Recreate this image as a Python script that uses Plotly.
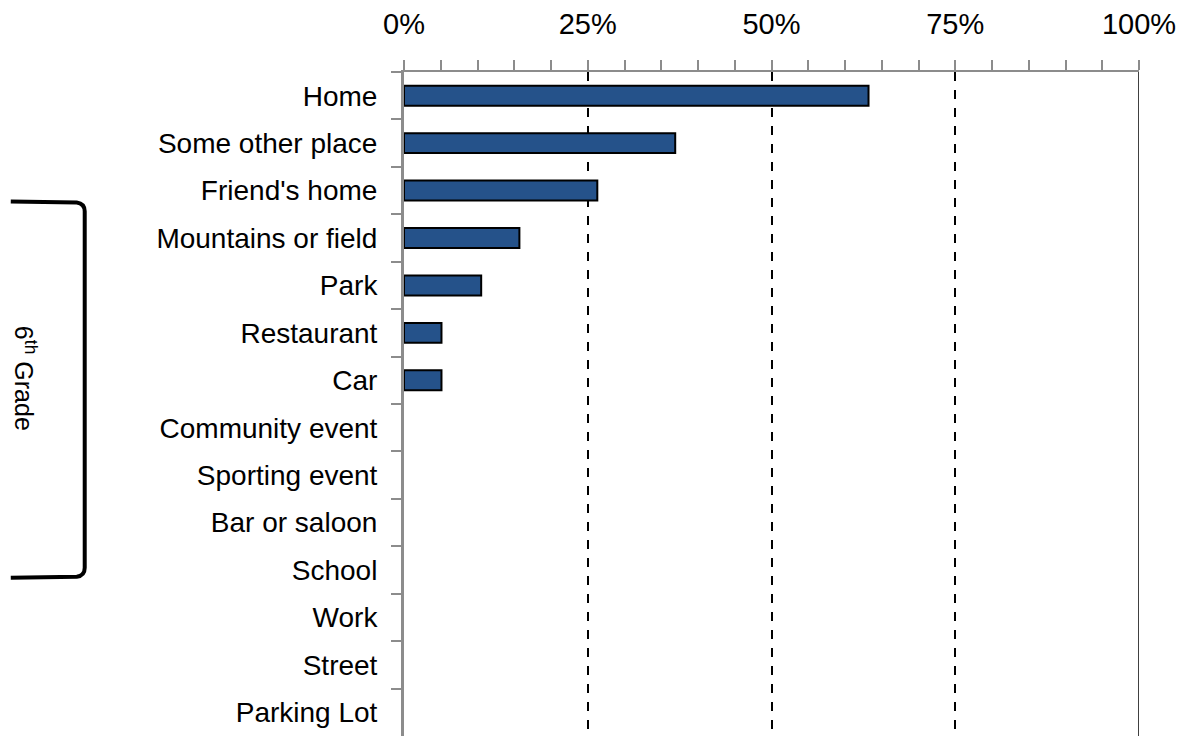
import plotly.graph_objects as go

# ---- data ----
categories = ["Home", "Some other place", "Friend's home", "Mountains or field", "Park",
              "Restaurant", "Car", "Community event", "Sporting event", "Bar or saloon",
              "School", "Work", "Street", "Parking Lot"]
values = [63.2, 36.9, 26.3, 15.7, 10.5, 5.1, 5.1, 0, 0, 0, 0, 0, 0, 0]
x_tick_vals = [0, 25, 50, 75, 100]
x_tick_text = ["0%", "25%", "50%", "75%", "100%"]
bracket_label = "6<sup>th</sup> Grade"

# page body has an 8px margin; figure is sized so the plot lands where the reference has it
OFF = 8
W, H = 1190 - OFF, 736 - OFF
L, R, T, B = 403.5 - OFF, 51, 69 - OFF, 0
pw, ph = W - L - R, H - T - B


def px(x):
    return (x - OFF - L) / pw


def py(y):
    return 1 - (y - OFF - T) / ph


FONT = "Liberation Sans, Arial, sans-serif"
AXIS_GRAY = "#8c8c8c"

fig = go.Figure()
fig.add_trace(go.Bar(
    y=categories, x=values, orientation="h", width=0.42,
    marker=dict(color="#25528a",
                line=dict(color="black", width=[2 if v > 0 else 0 for v in values])),
    hoverinfo="x+y",
))

fig.update_layout(
    width=W, height=H,
    margin=dict(l=L, r=R, t=T, b=B, pad=0),
    plot_bgcolor="white", paper_bgcolor="white",
    showlegend=False,
    font=dict(family=FONT, color="black"),
)

fig.update_xaxes(
    side="top", range=[0, 100], tickvals=x_tick_vals, ticktext=x_tick_text,
    tickfont=dict(size=29, family=FONT, color="black"),
    ticks="outside", ticklen=10, tickwidth=2, tickcolor=AXIS_GRAY,
    showline=True, linecolor=AXIS_GRAY, linewidth=2,
    showgrid=True, gridcolor="black", gridwidth=1.5, griddash="dash",
    zeroline=False, ticklabelstandoff=14,
    minor=dict(dtick=5, tick0=0, ticks="outside", ticklen=10, tickwidth=2,
               tickcolor=AXIS_GRAY, showgrid=False),
    fixedrange=True,
)
fig.update_yaxes(
    categoryorder="array", categoryarray=categories, autorange="reversed",
    tickfont=dict(size=28, family=FONT, color="black"),
    ticks="outside", ticklen=10, tickwidth=2, tickcolor=AXIS_GRAY,
    tickson="boundaries",
    showline=True, linecolor=AXIS_GRAY, linewidth=3,
    showgrid=False, zeroline=False, ticklabelstandoff=18,
    fixedrange=True,
)

# solid right border at 100%
fig.add_shape(type="line", xref="x", yref="paper", x0=100, x1=100, y0=0, y1=1,
              line=dict(color="black", width=1.5))

# bracket on left
path = (f"M {px(10)},{py(199)} L {px(76)},{py(200)} "
        f"Q {px(84)},{py(201)} {px(84)},{py(209)} "
        f"L {px(84)},{py(567)} "
        f"Q {px(84)},{py(575)} {px(76)},{py(576)} "
        f"L {px(10)},{py(577)}")
fig.add_shape(type="path", xref="paper", yref="paper", path=path,
              line=dict(color="black", width=4))

fig.add_annotation(xref="paper", yref="paper", x=px(25), y=py(377),
                   text=bracket_label, showarrow=False, textangle=90,
                   font=dict(size=25, family=FONT, color="black"),
                   xanchor="center", yanchor="middle")

fig.write_html("out.html")
